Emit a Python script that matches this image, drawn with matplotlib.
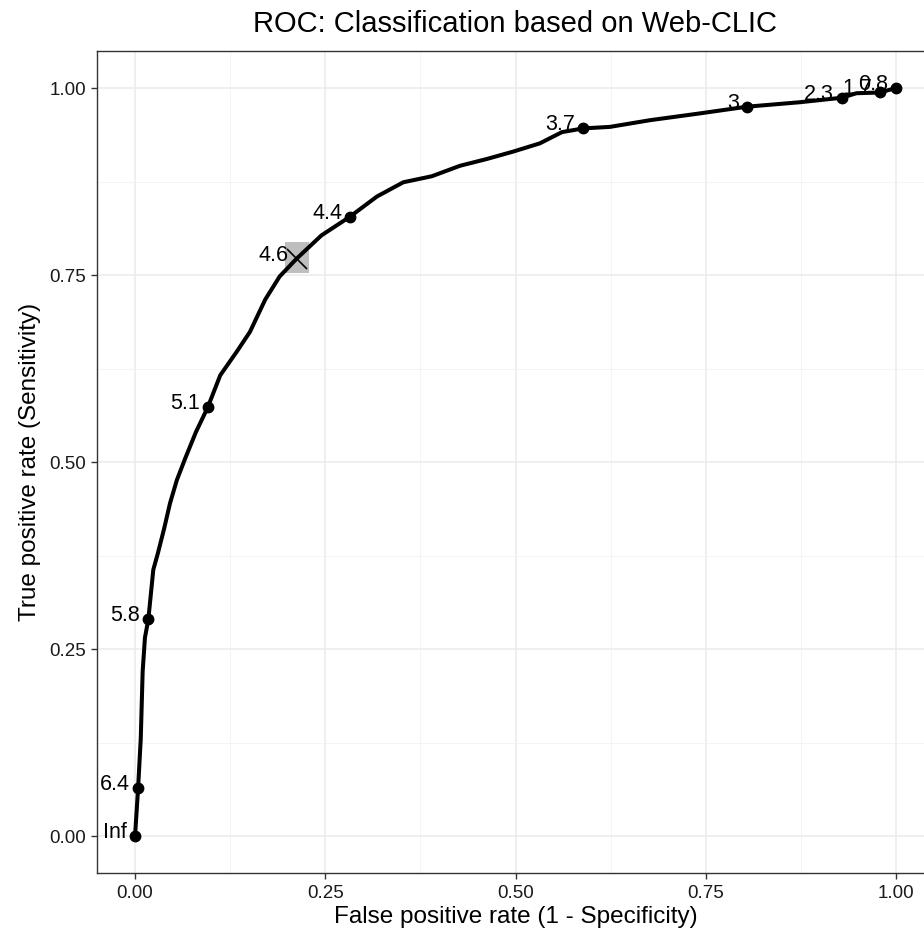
import matplotlib
matplotlib.use("Agg")
import matplotlib.pyplot as plt
from matplotlib.patches import Rectangle
from matplotlib.ticker import MultipleLocator, FuncFormatter

plt.rcParams['font.family'] = ['Liberation Sans', 'DejaVu Sans']

# ROC curve
fpr = [0.0, 0.004, 0.0075, 0.010, 0.013, 0.0175, 0.024, 0.030, 0.038, 0.046, 0.055,
       0.066, 0.080, 0.0955, 0.112, 0.134, 0.151, 0.171, 0.19, 0.2125, 0.245,
       0.2825, 0.318, 0.3526, 0.390, 0.427, 0.462, 0.497, 0.532, 0.561, 0.589,
       0.624, 0.677, 0.742, 0.804, 0.874, 0.929, 0.948, 0.979, 1.0]
tpr = [0.0, 0.064, 0.13, 0.22, 0.265, 0.29, 0.356, 0.378, 0.41, 0.445, 0.476,
       0.505, 0.54, 0.573, 0.616, 0.648, 0.674, 0.717, 0.748, 0.772, 0.803,
       0.828, 0.855, 0.874, 0.882, 0.896, 0.905, 0.915, 0.926, 0.941, 0.946,
       0.948, 0.957, 0.966, 0.975, 0.981, 0.987, 0.993, 0.994, 1.0]

# Labelled cutoff points
cut_fpr = [0.0, 0.004, 0.0175, 0.0955, 0.2825, 0.589, 0.804, 0.929, 0.979, 1.0]
cut_tpr = [0.0, 0.064, 0.29, 0.573, 0.828, 0.946, 0.975, 0.987, 0.994, 1.0]
cut_labels = ["Inf", "6.4", "5.8", "5.1", "4.4", "3.7", "3", "2.3", "1.7", "0.8"]

# Highlighted cutoff with confidence box
ci_label = "4.6"
ci_point = (0.2125, 0.772)
ci_x = (0.197, 0.229)
ci_y = (0.753, 0.794)

fig = plt.figure(figsize=(9.24, 9.38), dpi=100)
ax = fig.add_axes([97/924, 1 - 873.4/938, (934 - 97)/924, (873.4 - 50.6)/938])

ax.set_xlim(-0.05, 1.05)
ax.set_ylim(-0.05, 1.05)
ax.xaxis.set_major_locator(MultipleLocator(0.25))
ax.yaxis.set_major_locator(MultipleLocator(0.25))
ax.xaxis.set_minor_locator(MultipleLocator(0.125))
ax.yaxis.set_minor_locator(MultipleLocator(0.125))
ax.grid(which='major', color='#EBEBEB', lw=1.1, zorder=0)
ax.grid(which='minor', color='#F2F2F2', lw=0.6, zorder=0)
ax.set_axisbelow(True)
ax.tick_params(which='minor', length=0)
ax.tick_params(which='major', length=4, width=1, color='#333333', labelsize=13.5,
               labelcolor='#1a1a1a', pad=4)
ax.xaxis.set_major_formatter(FuncFormatter(lambda v, p: f"{v:.2f}"))
ax.yaxis.set_major_formatter(FuncFormatter(lambda v, p: f"{v:.2f}"))
for s in ax.spines.values():
    s.set_color('#333333')
    s.set_linewidth(1.0)

ax.add_patch(Rectangle((ci_x[0], ci_y[0]), ci_x[1] - ci_x[0], ci_y[1] - ci_y[0],
                       facecolor='#BEBEBE', edgecolor='none', zorder=2))
ax.plot(fpr, tpr, color='black', lw=2.9, solid_capstyle='round',
        solid_joinstyle='round', zorder=3)
ax.plot(cut_fpr, cut_tpr, 'o', color='black', ms=7.5, zorder=4)
ax.plot([ci_point[0]], [ci_point[1]], marker='x', color='black', ms=15, mew=1.2, zorder=4)

for x, y, lab in zip(cut_fpr, cut_tpr, cut_labels):
    ax.annotate(lab, (x, y), xytext=(-8, -2), textcoords='offset pixels',
                ha='right', va='baseline', fontsize=15.5, color='black', zorder=5)
ax.annotate(ci_label, ci_point, xytext=(-8, -2), textcoords='offset pixels',
            ha='right', va='baseline', fontsize=15.5, color='black', zorder=5)

ax.set_xlabel("False positive rate (1 - Specificity)", fontsize=17.5, labelpad=3)
ax.set_ylabel("True positive rate (Sensitivity)", fontsize=17.5, labelpad=6)
fig.text(515/924, 1 - 24/938, "ROC: Classification based on Web-CLIC", fontsize=21,
         ha='center', va='center')

fig.savefig("out.png", dpi=100)
